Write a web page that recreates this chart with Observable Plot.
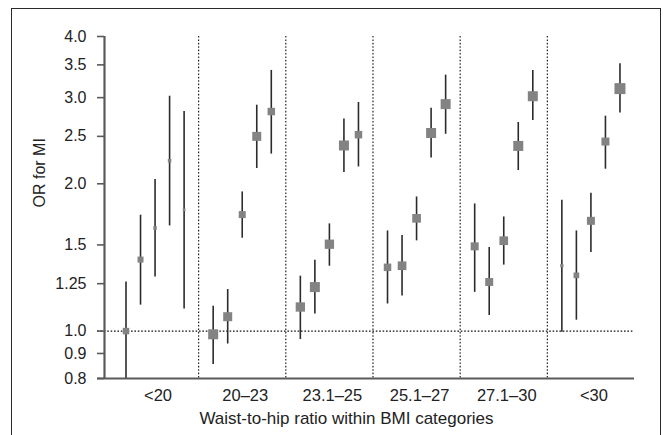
<!DOCTYPE html>
<html>
<head>
<meta charset="utf-8">
<script src="https://cdn.jsdelivr.net/npm/d3@7"></script>
<script src="https://cdn.jsdelivr.net/npm/@observablehq/plot@0.6"></script>
<style>
  html, body { margin: 0; padding: 0; background: #fff; }
  #wrap { position: relative; width: 663px; height: 435px; overflow: hidden; }
  #border { position: absolute; left: 11px; top: 8px; width: 650px; height: 460px; border: 1.5px solid #2a2a2a; box-sizing: border-box; }
  #chart { position: absolute; left: 0; top: 0; }
  svg { font-family: "Liberation Sans", Arial, Helvetica, sans-serif; }
</style>
</head>
<body>
<div id="wrap"><div id="border"></div><div id="chart"></div></div>
<script>
// Categories (BMI groups)
const groups = ["<20", "20–23", "23.1–25", "25.1–27", "27.1–30", "<30"];
// Odds ratios, 5 waist-to-hip quintiles per BMI group (in order)
const orValues = [
  1.00, 1.40, 1.625, 2.23, 1.77,
  0.985, 1.07, 1.73, 2.50, 2.81,
  1.12, 1.23, 1.505, 2.395, 2.52,
  1.35, 1.36, 1.70, 2.54, 2.91,
  1.49, 1.26, 1.53, 2.39, 3.02,
  1.36, 1.30, 1.68, 2.44, 3.13
];
const lowerCI = [
  0.80, 1.13, 1.29, 1.64, 1.11,
  0.854, 0.941, 1.548, 2.149, 2.30,
  0.961, 1.084, 1.357, 2.109, 2.165,
  1.136, 1.18, 1.529, 2.259, 2.525,
  1.20, 1.076, 1.364, 2.129, 2.694,
  0.995, 1.0525, 1.4475, 2.142, 2.792
];
const upperCI = [
  1.26, 1.725, 2.04, 3.02, 2.81,
  1.124, 1.216, 1.925, 2.895, 3.41,
  1.295, 1.396, 1.656, 2.714, 2.932,
  1.602, 1.568, 1.88, 2.854, 3.335,
  1.819, 1.482, 1.711, 2.669, 3.41,
  1.851, 1.602, 1.913, 2.749, 3.52
];
// Relative weight (precision) of each estimate -> marker size
const weights = [
  6.5, 6, 3.5, 3.5, 2.7,
  10, 9, 7, 9, 7.5,
  9.3, 10, 9.3, 10, 7.5,
  7.5, 8.7, 8.7, 10, 10,
  8, 8, 8.7, 10, 10,
  3.3, 5.7, 8, 8, 11
];
const yTicks = [0.8, 0.9, 1.0, 1.25, 1.5, 2.0, 2.5, 3.0, 3.5, 4.0];
const yTickLabels = ["0.8", "0.9", "1.0", "1.25", "1.5", "2.0", "2.5", "3.0", "3.5", "4.0"];

const perGroup = 5;
const data = orValues.map((v, k) => {
  const g = Math.floor(k / perGroup);
  const j = k % perGroup;
  return { group: groups[g], pos: (g + 1) + (j - 2) / 6, or: v, lo: lowerCI[k], hi: upperCI[k], w: weights[k] };
});
const dividers = groups.slice(1).map((_, i) => i + 1.5);
const centers = groups.map((_, i) => i + 1);
const maxW = d3.max(weights);
const xDomain = [0.42, groups.length + 0.5];
const yDomain = [yTicks[0], yTicks[yTicks.length - 1]];

const chart = Plot.plot({
  width: 663,
  height: 435,
  marginLeft: 104,
  marginRight: 29,
  marginTop: 36,
  marginBottom: 57,
  style: { fontSize: "16px", fontFamily: "'Liberation Sans', Arial, Helvetica, sans-serif", background: "transparent", overflow: "visible" },
  x: { type: "linear", domain: xDomain, axis: null },
  y: { type: "log", domain: yDomain, axis: null },
  r: { type: "linear", domain: [0, maxW], range: [0, maxW / Math.sqrt(Math.PI)] },
  marks: [
    Plot.ruleX(dividers, { stroke: "#111", strokeWidth: 1.1, strokeDasharray: "1.6,1.8" }),
    Plot.ruleY([1.0], { stroke: "#111", strokeWidth: 1.1, strokeDasharray: "1.6,1.8", insetLeft: -7 }),
    Plot.ruleX(data, { x: "pos", y1: "lo", y2: "hi", stroke: "#2b2b2b", strokeWidth: 1.6 }),
    Plot.dot(data, { x: "pos", y: "or", r: "w", symbol: "square", fill: "#838383", stroke: "none" }),
    // axis domain lines
    Plot.ruleX([xDomain[0]], { stroke: "#5a5a5a", strokeWidth: 2.2 }),
    Plot.ruleY([yDomain[0]], { stroke: "#5a5a5a", strokeWidth: 2.2, insetLeft: -7 }),
    Plot.axisY({
      ticks: yTicks,
      tickFormat: d => yTickLabels[yTicks.indexOf(d)],
      tickSize: 7,
      tickPadding: 11,
      stroke: "#5a5a5a",
      strokeWidth: 1.6,
      fill: "#222",
      fontSize: 16,
      label: null
    }),
    Plot.axisX({
      ticks: centers,
      tickFormat: d => groups[d - 1],
      tickSize: 0,
      tickPadding: 11,
      dx: 3,
      fill: "#222",
      fontSize: 16.5,
      label: null
    }),
    Plot.text(["OR for MI"], { frameAnchor: "left", dx: -65, rotate: -90, fill: "#222", fontSize: 16 }),
    Plot.text(["Waist-to-hip ratio within BMI categories"], { frameAnchor: "bottom", dx: -23, dy: 45, fill: "#222", fontSize: 17 })
  ]
});
document.getElementById("chart").appendChild(chart);
</script>
</body>
</html>
